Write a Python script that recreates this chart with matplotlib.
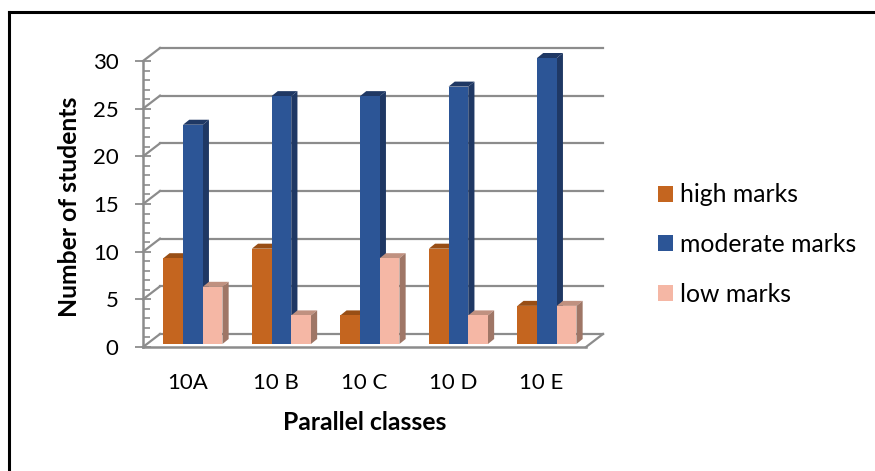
import numpy as np
import matplotlib.pyplot as plt
from matplotlib.lines import Line2D

plt.rcParams['font.family'] = ['Lato', 'DejaVu Sans']

classes = ['10A', '10 B', '10 C', '10 D', '10 E']
high = [9, 10, 3, 10, 4]
moderate = [23, 26, 26, 27, 30]
low = [6, 3, 9, 3, 4]

W, H = 875, 471
L, R, B, T = 143, 603, 347, 48   # plot box in pixels, from top left
px_y = 286 / 30.0                # pixels per student
px_x = 88.5                      # pixels per class
GRAY = '#8c8c8c'

fig = plt.figure(figsize=(W / 100, H / 100), dpi=100)
# the frame only shows on the top and left in the source
fig.add_artist(Line2D([8.5 / W, 8.5 / W], [0, 1 - 11.5 / H], color='black', lw=2.2, solid_capstyle='projecting'))
fig.add_artist(Line2D([8.5 / W, 1], [1 - 11.5 / H, 1 - 11.5 / H], color='black', lw=2.2, solid_capstyle='projecting'))
ax = fig.add_axes([L / W, 1 - B / H, (R - L) / W, (B - T) / H])
ax.patch.set_visible(False)

x0 = 44.4 / px_x
ax.set_xlim(-x0, (R - L) / px_x - x0)
ax.set_ylim(0, (B - T) / px_y)

dx = 17 / px_x      # wall offset
dy = 13 / px_y
for v in range(0, 31, 5):
    ax.plot([-x0 + dx, ax.get_xlim()[1]], [v + dy, v + dy], color=GRAY, lw=1.6, clip_on=False, zorder=1)
    ax.plot([-x0, -x0 + dx], [v, v + dy], color=GRAY, lw=1.6, clip_on=False, zorder=1)
# floor front edge and right edge
fx = ax.get_xlim()[1] - dx
ax.plot([-x0, fx], [0, 0], color=GRAY, lw=1.8, clip_on=False, zorder=1)
ax.plot([fx, fx + dx], [0, dy], color=GRAY, lw=1.6, clip_on=False, zorder=1)

bw = 19.7 / px_x
ddx = 6.2 / px_x
ddy = 5 / px_y
base = 3 / px_y
shift = 5.5 / px_x
series = [
    (high, 'high marks', '#c4651f', '#984e15', '#984e15'),
    (moderate, 'moderate marks', '#2c5596', '#1f3864', '#1f3864'),
    (low, 'low marks', '#f5b7a5', '#c09180', '#9f7666'),
]
pos = np.arange(len(classes))
handles = []
for k, (vals, name, col, topc, sidec) in enumerate(series):
    xs = pos + shift + (k - 1) * bw
    for x, v in zip(xs, vals):
        xl, xr = x - bw / 2, x + bw / 2
        yt = base + v
        ax.fill([xl, xr, xr + ddx, xl + ddx], [yt, yt, yt + ddy, yt + ddy], color=topc, lw=0, zorder=2 + k)
        ax.fill([xr, xr + ddx, xr + ddx, xr], [base, base + ddy, yt + ddy, yt], color=sidec, lw=0, zorder=2 + k)
    bars = ax.bar(xs, vals, bw, bottom=base, color=col, label=name, zorder=2 + k)
    handles.append(bars)

for s in ['top', 'right', 'bottom']:
    ax.spines[s].set_visible(False)
ax.spines['left'].set_color(GRAY)
ax.spines['left'].set_linewidth(1.8)
ax.spines['left'].set_bounds(0, 30)

ax.set_yticks(range(0, 31, 5))
ax.set_yticks(range(0, 31), minor=True)
ax.tick_params(axis='y', which='major', direction='inout', length=11, width=1.3, color=GRAY,
               labelsize=16, pad=12, labelcolor='black')
ax.tick_params(axis='y', which='minor', direction='in', length=5, width=1.2, color=GRAY)
ax.set_xticks(pos)
ax.set_xticklabels(classes)
ax.tick_params(axis='x', length=0, labelsize=16, pad=19)

ax.set_ylabel('Number of students', fontsize=17.8, fontweight='bold')
ax.yaxis.set_label_coords((69 - L) / (R - L), (B - 207) / (B - T))
ax.set_xlabel('Parallel classes', fontsize=17.8, fontweight='bold')
ax.xaxis.set_label_coords((365 - L) / (R - L), (B - 423) / (B - T))
ax.xaxis.label.set_verticalalignment('center')
ax.yaxis.label.set_verticalalignment('center')

leg = ax.legend(handles=handles, loc='center left', bbox_to_anchor=(658 / W, 1 - 244.5 / H),
                bbox_transform=fig.transFigure, frameon=False, fontsize=17.8,
                handlelength=0.61, handleheight=0.61, handletextpad=0.3, labelspacing=1.08,
                borderpad=0, borderaxespad=0)

fig.savefig('out.png', dpi=100)
